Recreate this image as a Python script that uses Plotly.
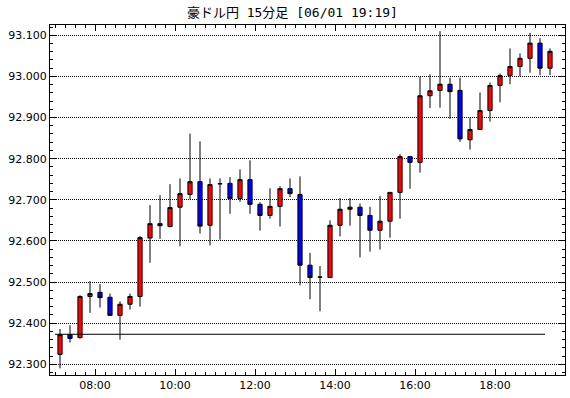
import pandas as pd
import plotly.graph_objects as go

title_text = "豪ドル円 15分足 [06/01 19:19]"
date_str = "2023-06-01"

times = ["07:00", "07:15", "07:30", "07:45", "08:00", "08:15", "08:30", "08:45",
         "09:00", "09:15", "09:30", "09:45", "10:00", "10:15", "10:30", "10:45",
         "11:00", "11:15", "11:30", "11:45", "12:00", "12:15", "12:30", "12:45",
         "13:00", "13:15", "13:30", "13:45", "14:00", "14:15", "14:30", "14:45",
         "15:00", "15:15", "15:30", "15:45", "16:00", "16:15", "16:30", "16:45",
         "17:00", "17:15", "17:30", "17:45", "18:00", "18:15", "18:30", "18:45",
         "19:00", "19:15"]

opens = [92.324, 92.372, 92.365, 92.465, 92.475, 92.463, 92.419, 92.446,
         92.465, 92.607, 92.642, 92.635, 92.682, 92.713, 92.744, 92.638,
         92.739, 92.740, 92.703, 92.749, 92.689, 92.662, 92.684, 92.727,
         92.713, 92.541, 92.512, 92.511, 92.638, 92.677, 92.682, 92.662,
         92.626, 92.648, 92.718, 92.805, 92.791, 92.953, 92.966, 92.981,
         92.966, 92.846, 92.871, 92.917, 92.978, 93.002, 93.024, 93.044,
         93.081, 93.020]
highs = [92.386, 92.395, 92.468, 92.502, 92.495, 92.472, 92.453, 92.472,
         92.612, 92.687, 92.711, 92.738, 92.752, 92.861, 92.842, 92.752,
         92.752, 92.755, 92.774, 92.796, 92.694, 92.728, 92.733, 92.752,
         92.757, 92.571, 92.539, 92.650, 92.704, 92.704, 92.691, 92.683,
         92.709, 92.718, 92.811, 92.805, 92.999, 93.005, 93.110, 92.997,
         92.997, 92.900, 92.961, 92.985, 93.007, 93.068, 93.056, 93.106,
         93.093, 93.068]
lows = [92.290, 92.353, 92.362, 92.425, 92.438, 92.419, 92.360, 92.433,
        92.440, 92.547, 92.605, 92.633, 92.587, 92.701, 92.618, 92.589,
        92.603, 92.666, 92.695, 92.666, 92.625, 92.654, 92.635, 92.707,
        92.492, 92.458, 92.429, 92.511, 92.611, 92.637, 92.560, 92.574,
        92.579, 92.608, 92.654, 92.727, 92.766, 92.923, 92.924, 92.897,
        92.841, 92.822, 92.871, 92.890, 92.937, 92.981, 93.000, 93.009,
        93.003, 93.003]
closes = [92.372, 92.363, 92.465, 92.472, 92.462, 92.419, 92.446, 92.465,
          92.608, 92.642, 92.637, 92.681, 92.715, 92.744, 92.636, 92.737,
          92.739, 92.703, 92.749, 92.689, 92.662, 92.684, 92.727, 92.715,
          92.541, 92.511, 92.512, 92.638, 92.677, 92.682, 92.662, 92.626,
          92.648, 92.718, 92.805, 92.791, 92.953, 92.965, 92.981, 92.963,
          92.848, 92.871, 92.917, 92.978, 93.002, 93.024, 93.044, 93.081,
          93.020, 93.061]

ref_level = 92.373

y_ticks = [92.300, 92.400, 92.500, 92.600, 92.700, 92.800, 92.900, 93.000, 93.100]
x_tick_labels = ["08:00", "10:00", "12:00", "14:00", "16:00", "18:00"]

x = pd.to_datetime([f"{date_str} {t}" for t in times])
x_ticks = pd.to_datetime([f"{date_str} {t}" for t in x_tick_labels])

fig = go.Figure()
fig.add_trace(go.Candlestick(
    x=x, open=opens, high=highs, low=lows, close=closes,
    xperiod=15 * 60 * 1000, xperiodalignment="middle",
    increasing=dict(line=dict(color="black", width=1), fillcolor="#ff0000"),
    decreasing=dict(line=dict(color="black", width=1), fillcolor="#0000ff"),
    whiskerwidth=0, showlegend=False, hoverinfo="skip",
))
fig.add_trace(go.Scatter(
    x=[x[0], x[-1]], y=[ref_level, ref_level], mode="lines",
    line=dict(color="black", width=1), showlegend=False, hoverinfo="skip",
))

x_start = pd.Timestamp(f"{date_str} 06:52:30")
x_end = pd.Timestamp(f"{date_str} 19:45")

fig.update_layout(
    width=570, height=398,
    margin=dict(l=50, r=5, t=25, b=23),
    paper_bgcolor="white", plot_bgcolor="white",
    boxgap=0.4,
    title=dict(text=title_text, x=0.513, xanchor="center", y=0.968, yanchor="middle",
               font=dict(family="DejaVu Sans Mono, Noto Sans CJK JP", size=13, color="black")),
    font=dict(family="DejaVu Sans", size=11, color="black"),
    xaxis=dict(
        type="date", range=[x_start, x_end], rangeslider=dict(visible=False),
        tickvals=x_ticks, ticktext=x_tick_labels,
        showgrid=False, showline=True, linecolor="black", linewidth=1, mirror="allticks",
        ticks="inside", ticklen=6, tickcolor="black",
        minor=dict(ticks="inside", ticklen=3, tickcolor="black",
                   dtick=15 * 60 * 1000, tick0=f"{date_str} 00:00", showgrid=False),
        zeroline=False, fixedrange=True,
    ),
    yaxis=dict(
        range=[92.274, 93.125], tickvals=y_ticks, tickformat=".3f",
        showgrid=True, gridcolor="black", griddash="1px,1px", gridwidth=1,
        showline=True, linecolor="black", linewidth=1, mirror="allticks",
        ticks="inside", ticklen=6, tickcolor="black",
        minor=dict(ticks="inside", ticklen=3, tickcolor="black", dtick=0.02, tick0=92.3, showgrid=False),
        zeroline=False, fixedrange=True,
    ),
)

fig.write_html("out.html", config={"displayModeBar": False},
               post_script="document.body.style.margin='0';")
